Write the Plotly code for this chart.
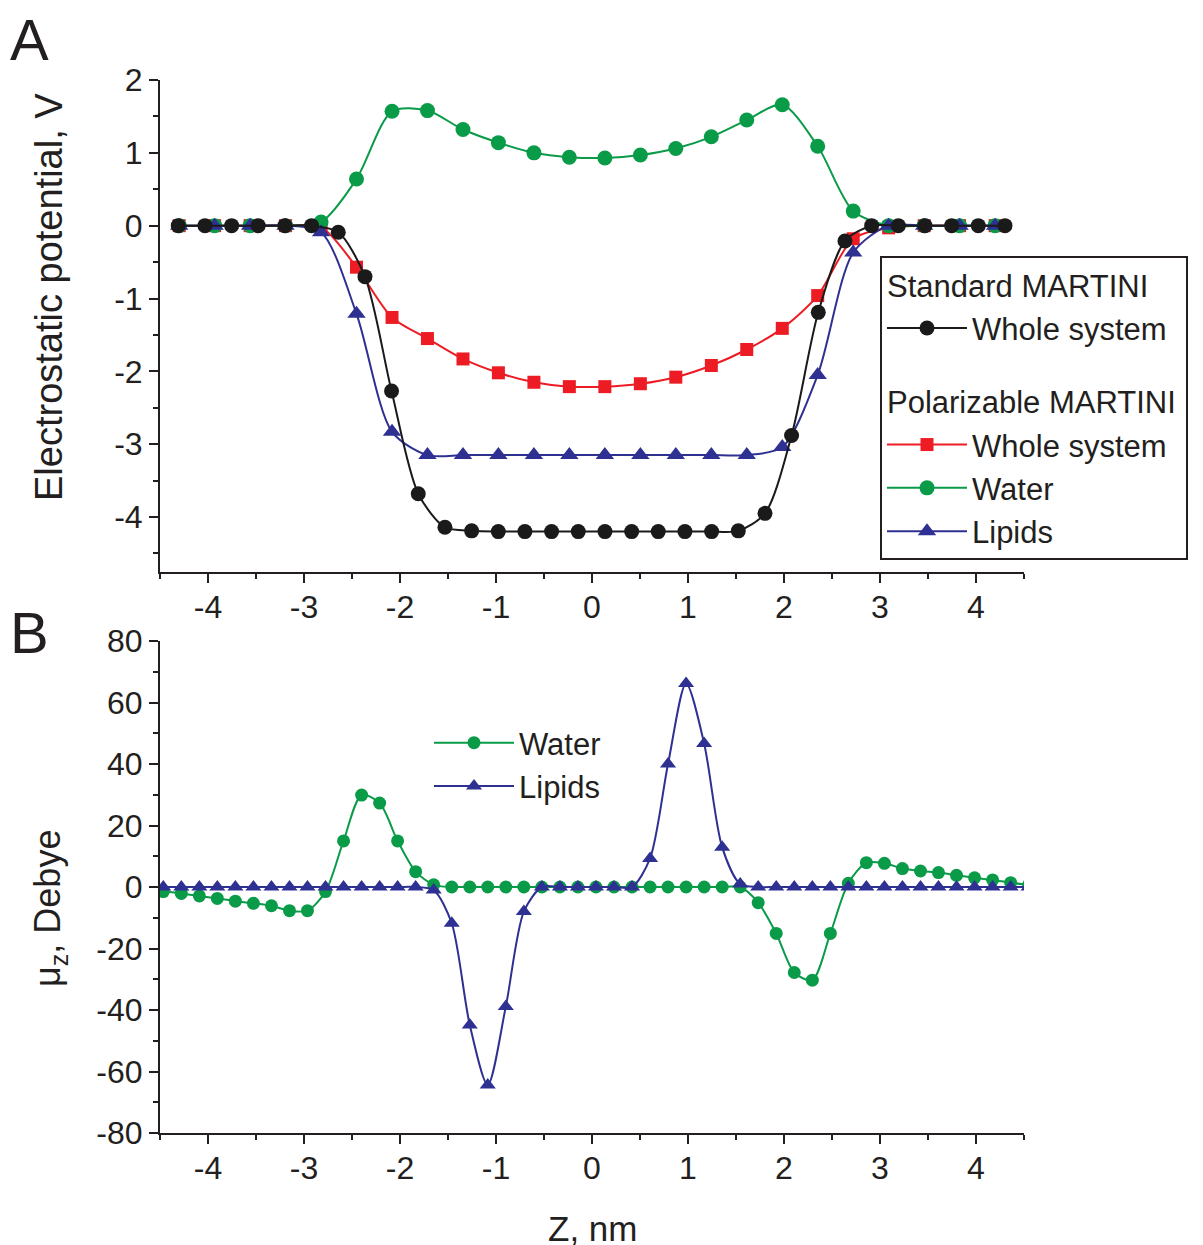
import plotly.graph_objects as go

# ---------------- Data ----------------
# Panel A, Standard MARTINI (whole system)
z_std = [-4.310, -4.032, -3.754, -3.477, -3.199, -2.921, -2.643, -2.365, -2.088, -1.810,
         -1.532, -1.254, -0.976, -0.699, -0.421, -0.143, 0.135, 0.413, 0.690, 0.968,
         1.246, 1.524, 1.802, 2.079, 2.357, 2.635, 2.913, 3.191, 3.468, 3.746, 4.024, 4.302]
phi_std_whole = [0, 0, 0, 0, 0, 0, -0.09, -0.70, -2.27, -3.68,
                 -4.14, -4.19, -4.20, -4.20, -4.20, -4.20, -4.20, -4.20, -4.20, -4.20,
                 -4.20, -4.19, -3.95, -2.88, -1.19, -0.21, 0, 0, 0, 0, 0, 0]

# Panel A, Polarizable MARTINI
z_pol = [-4.300, -3.931, -3.561, -3.192, -2.822, -2.453, -2.083, -1.714, -1.344, -0.975,
         -0.605, -0.236, 0.134, 0.504, 0.873, 1.243, 1.612, 1.982, 2.351, 2.721,
         3.090, 3.460, 3.829, 4.199]
phi_pol_whole = [0, 0, 0, 0, -0.02, -0.57, -1.26, -1.55, -1.83, -2.02,
                 -2.15, -2.21, -2.21, -2.17, -2.08, -1.92, -1.70, -1.41, -0.96, -0.18,
                 -0.03, 0, 0, 0]
phi_pol_water = [0, 0, 0, 0, 0.05, 0.64, 1.57, 1.58, 1.32, 1.14,
                 1.00, 0.94, 0.93, 0.97, 1.06, 1.22, 1.45, 1.66, 1.09, 0.20,
                 0.0, 0, 0, 0]
phi_pol_lipids = [0, 0, 0, 0, -0.09, -1.21, -2.83, -3.15, -3.15, -3.15,
                  -3.15, -3.15, -3.15, -3.15, -3.15, -3.15, -3.15, -3.04, -2.05, -0.37,
                  0, 0, 0, 0]

# Panel B, dipole moment
z_dip = [-4.466, -4.278, -4.090, -3.903, -3.715, -3.527, -3.339, -3.151, -2.964, -2.776,
         -2.588, -2.400, -2.212, -2.025, -1.837, -1.649, -1.461, -1.273, -1.086, -0.898,
         -0.710, -0.522, -0.334, -0.147, 0.041, 0.229, 0.417, 0.605, 0.792, 0.980,
         1.168, 1.356, 1.544, 1.731, 1.919, 2.107, 2.295, 2.483, 2.670, 2.858,
         3.046, 3.234, 3.422, 3.609, 3.797, 3.985, 4.173, 4.361, 4.548]
mu_water = [-1.5, -2.1, -2.9, -3.7, -4.6, -5.3, -6.1, -7.7, -7.7, -1.5,
            15.0, 29.9, 27.3, 15.0, 5.0, 0.7, 0, 0, 0, 0,
            0, 0, 0, 0, 0, 0, 0, 0, 0, 0,
            0, 0, 0, -5.1, -15.1, -27.8, -30.3, -15.1, 1.2, 7.9,
            7.7, 6.0, 5.2, 4.7, 3.8, 3.0, 2.3, 1.4, 0.7]
mu_lipids = [0, 0, 0, 0, 0, 0, 0, 0, 0, 0,
             0, 0, 0, 0, 0, -1.0, -11.8, -44.9, -64.4, -38.9,
             -8.0, 0, 0, 0, 0, 0, 0, 9.3, 40.0, 66.2,
             46.7, 12.9, 1.0, 0, 0, 0, 0, 0, 0, 0,
             0, 0, 0, 0, 0, 0, 0, 0, 0]

# Tick labels
x_tickvals = [-4, -3, -2, -1, 0, 1, 2, 3, 4]
x_ticktext = ["-4", "-3", "-2", "-1", "0", "1", "2", "3", "4"]
yA_tickvals = [-4, -3, -2, -1, 0, 1, 2]
yA_ticktext = ["-4", "-3", "-2", "-1", "0", "1", "2"]
yB_tickvals = [-80, -60, -40, -20, 0, 20, 40, 60, 80]
yB_ticktext = ["-80", "-60", "-40", "-20", "0", "20", "40", "60", "80"]

# ---------------- Style ----------------
BLACK = "#1a1a1a"
RED = "#ed1c24"
GREEN = "#0a9b48"
BLUE = "#2e3192"
INK = "#231f20"
FONT = "Liberation Sans, Arial, sans-serif"
SMOOTH = 0.8

fig = go.Figure()

def line(c):
    return dict(color=c, width=2, shape="spline", smoothing=SMOOTH)

# Panel A traces (drawn red, green, blue, then black on top)
fig.add_trace(go.Scatter(x=z_pol, y=phi_pol_whole, mode="lines+markers", name="Whole system",
                         line=line(RED), marker=dict(symbol="square", size=13, color=RED),
                         legendgroup="pol", legendgrouptitle=dict(text="Polarizable MARTINI"),
                         legendrank=2, xaxis="x", yaxis="y", legend="legend"))
fig.add_trace(go.Scatter(x=z_pol, y=phi_pol_water, mode="lines+markers", name="Water",
                         line=line(GREEN), marker=dict(symbol="circle", size=15, color=GREEN),
                         legendgroup="pol", legendrank=3, xaxis="x", yaxis="y", legend="legend"))
fig.add_trace(go.Scatter(x=z_pol, y=phi_pol_lipids, mode="lines+markers", name="Lipids",
                         line=line(BLUE), marker=dict(symbol="triangle-up", size=16, color=BLUE),
                         legendgroup="pol", legendrank=4, xaxis="x", yaxis="y", legend="legend"))
fig.add_trace(go.Scatter(x=z_std, y=phi_std_whole, mode="lines+markers", name="Whole system",
                         line=line(BLACK), marker=dict(symbol="circle", size=15, color=BLACK),
                         legendgroup="std", legendgrouptitle=dict(text="Standard MARTINI"),
                         legendrank=1, xaxis="x", yaxis="y", legend="legend"))

# Panel B traces
fig.add_trace(go.Scatter(x=z_dip, y=mu_water, mode="lines+markers", name="Water",
                         line=line(GREEN), marker=dict(symbol="circle", size=13, color=GREEN),
                         xaxis="x2", yaxis="y2", legend="legend2"))
fig.add_trace(go.Scatter(x=z_dip, y=mu_lipids, mode="lines+markers", name="Lipids",
                         line=line(BLUE), marker=dict(symbol="triangle-up", size=14, color=BLUE),
                         xaxis="x2", yaxis="y2", legend="legend2"))

# Geometry: reference pixel coordinates; the page adds an 8 px body margin
OFF = 8
W, H = 1203 - OFF, 1245 - OFF
L, R, T, B = 160 - OFF, 1024 - OFF, 80 - OFF, 1133 - OFF
PH = B - T

def px(xp):
    return (xp - OFF - L) / (R - L)

def py(yp):
    return (B - (yp - OFF)) / PH

axis_common = dict(showline=True, linewidth=2, linecolor=INK, ticks="outside", ticklen=9,
                   tickwidth=2, tickcolor=INK, showgrid=False, zeroline=False,
                   tickfont=dict(family=FONT, size=32, color=INK), tickmode="array")

def minor(d):
    return dict(tickmode="linear", tick0=0, dtick=d, ticklen=5, tickwidth=2, tickcolor=INK, ticks="outside")

fig.update_layout(
    width=W, height=H,
    margin=dict(l=L, r=W - R, t=T, b=H - B),
    plot_bgcolor="white", paper_bgcolor="white",
    font=dict(family=FONT, color=INK),
    xaxis=dict(domain=[0, 1], anchor="y", range=[-4.5, 4.5], tickvals=x_tickvals, ticktext=x_ticktext,
               minor=minor(0.5), ticklabelstandoff=-3, **axis_common),
    yaxis=dict(domain=[py(572), 1], anchor="x", range=[-4.755, 2.0], tickvals=yA_tickvals, ticktext=yA_ticktext,
               minor=minor(0.5), **axis_common),
    xaxis2=dict(domain=[0, 1], anchor="y2", range=[-4.5, 4.5], tickvals=x_tickvals, ticktext=x_ticktext,
                minor=minor(0.5), ticklabelstandoff=-3, **axis_common),
    yaxis2=dict(domain=[0, py(641)], anchor="x2", range=[-80, 80], tickvals=yB_tickvals, ticktext=yB_ticktext,
                minor=minor(10), **axis_common),
    legend=dict(x=px(880), y=py(256), xanchor="left", yanchor="top",
                bordercolor=INK, borderwidth=2, bgcolor="white",
                font=dict(family=FONT, size=31, color=INK),
                grouptitlefont=dict(family=FONT, size=31, color=INK),
                traceorder="grouped", tracegroupgap=30, itemwidth=80),
    legend2=dict(x=px(429), y=py(716), xanchor="left", yanchor="top",
                 bgcolor="rgba(0,0,0,0)", borderwidth=0,
                 font=dict(family=FONT, size=31, color=INK), itemwidth=80),
    showlegend=True,
)

annots = [
    dict(text="A", x=px(8), y=py(39), xanchor="left", yanchor="middle", font=dict(size=58, family=FONT, color=INK)),
    dict(text="B", x=px(8), y=py(632), xanchor="left", yanchor="middle", font=dict(size=58, family=FONT, color=INK)),
    dict(text="Electrostatic potential, V", x=px(49), y=py(297), textangle=-90,
         xanchor="center", yanchor="middle", font=dict(size=38, family=FONT, color=INK)),
    dict(text="\u03bc<sub>z</sub>, Debye", x=px(50), y=py(908), textangle=-90,
         xanchor="center", yanchor="middle", font=dict(size=36, family=FONT, color=INK)),
    dict(text="Z, nm", x=px(592), y=py(1228), xanchor="center", yanchor="middle",
         font=dict(size=35, family=FONT, color=INK)),
]
for a in annots:
    a.update(xref="paper", yref="paper", showarrow=False)
fig.update_layout(annotations=annots)

fig.write_html("out.html")
